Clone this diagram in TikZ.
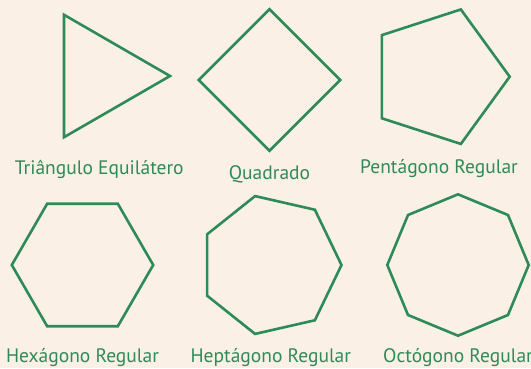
\documentclass[tikz,border=0pt]{standalone}
\usepackage{fontspec}
\setmainfont{PT Sans}
\usepackage{xcolor}
\definecolor{shapegreen}{RGB}{46,139,87}
\definecolor{linenbg}{RGB}{250,240,230}
\usetikzlibrary{shapes.geometric, positioning}

\begin{document}
\begin{tikzpicture}[
  x=1pt, y=-1pt,
  poly/.style={regular polygon, draw=shapegreen, line width=2.6pt,
    minimum size=141.4pt, inner sep=0pt, outer sep=0pt},
  shapelabel/.style={text=shapegreen, font=\fontsize{19.5}{24}\selectfont,
    inner sep=0pt, anchor=base}
]
  % background
  \fill[linenbg] (0,0) rectangle (531,368);
  \useasboundingbox (0,0) rectangle (531,368);

  % top row
  \node[poly, regular polygon sides=3, shape border rotate=-90] (tri) at (99.3,76) {};
  \node[poly, regular polygon sides=4, shape border rotate=45] (quad) at (269.5,80) {};
  \node[poly, regular polygon sides=5, shape border rotate=-90] (penta) at (439,76.7) {};

  % bottom row
  \node[poly, regular polygon sides=6] (hexa) at (82.5,265) {};
  \node[poly, regular polygon sides=7, shape border rotate=-90] (hepta) at (270.8,265) {};
  \node[poly, regular polygon sides=8, shape border rotate=22.5] (octa) at (458,265) {};

  % labels
  \node[shapelabel] (trilbl) at ([yshift=-98pt]tri.center) {Triângulo Equilátero};
  \node[shapelabel] (quadlbl) at ([yshift=-99pt]quad.center) {Quadrado};
  \node[shapelabel] (pentalbl) at ([yshift=-97pt]penta.center) {Pentágono Regular};
  \node[shapelabel] (hexalbl) at ([yshift=-97pt]hexa.center) {Hexágono Regular};
  \node[shapelabel] (heptalbl) at ([yshift=-97pt]hepta.center) {Heptágono Regular};
  \node[shapelabel] (octalbl) at ([yshift=-97pt]octa.center) {Octógono Regular};
\end{tikzpicture}
\end{document}
